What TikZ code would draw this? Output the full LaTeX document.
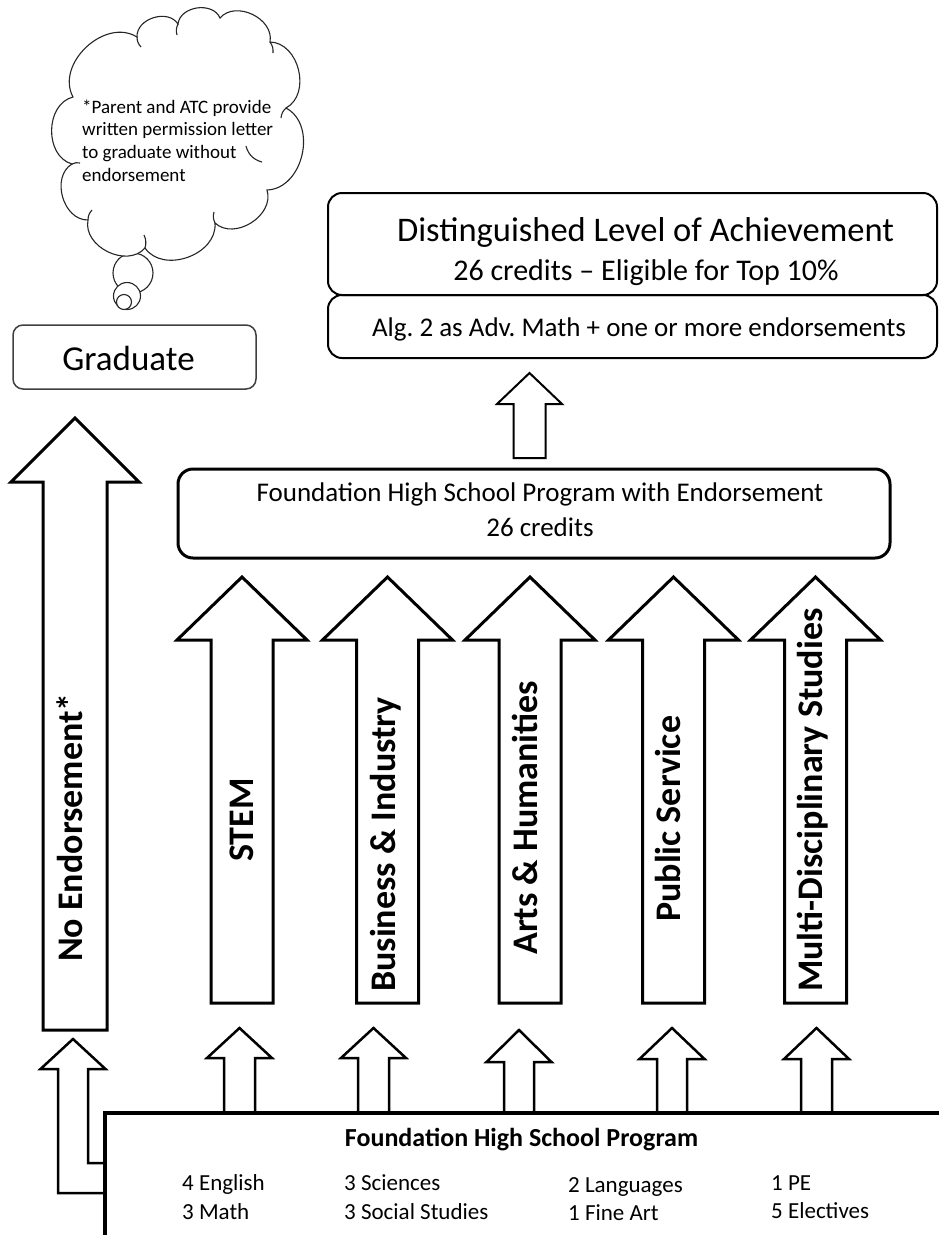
\documentclass[tikz,border=0pt]{standalone}
\usepackage{fontspec}
\setmainfont{Carlito}
\frenchspacing
\newcommand{\BlockUp}[7]{%
  \draw[#1] (#2,#3) -- ({#2+#6},#4) -- ({#2+#7},#4) -- ({#2+#7},#5) -- ({#2-#7},#5) -- ({#2-#7},#4) -- ({#2-#6},#4) -- cycle;}
\tikzset{
  bigarrow/.style={draw=black, line width=3pt, fill=white, line join=miter},
  smallarrow/.style={draw=black, line width=2.5pt, fill=white, line join=miter},
  midarrow/.style={draw=black, line width=2pt, fill=white, line join=miter},
  arrowlabel/.style={rotate=90, anchor=base west, inner sep=0pt, font=\bfseries\fontsize{36}{43}\selectfont},
  txt/.style={inner sep=0pt, anchor=base},
  ltxt/.style={inner sep=0pt, anchor=base west},
  boxshape/.style={draw=black, fill=white, outer sep=0pt, inner sep=0pt},
  cloudline/.style={draw=black!85, line width=1.1pt},
  bubble/.style={circle, cloudline, fill=white, inner sep=0pt, outer sep=0pt},
  puff/.style={bend left=75, looseness=1.1}
}
\begin{document}
\begin{tikzpicture}[x=1pt,y=-1pt]
\useasboundingbox (0,0) rectangle (938,1235);

% thought cloud
\node[bubble, minimum size=40pt] (b1) at (133,273) {};
\node[bubble, minimum size=27pt] (b2) at (127,296) {};
\node[bubble, minimum size=15pt] (b3) at (124,302) {};
\draw[cloudline, fill=white] (73,97) to[puff] (137,37) to[puff] (178,24) to[puff] (220,18)
  to[puff] (270,42) to[puff] (286,108) to[puff] (267,190) to[puff] (215,223)
  to[puff] (145,248) to[puff] (88,220) to[puff] (72,164) to[puff] (73,97) -- cycle;
\draw[cloudline] (137,37) to[bend right=20] (141,47);
\draw[cloudline] (178,24) to[bend right=20] (177,35);
\draw[cloudline] (270,42) to[bend left=20] (273,53);
\draw[cloudline] (286,108) to[bend right=20] (281,118);
\draw[cloudline] (246,146) to[bend right=30] (262,162);
\draw[cloudline] (215,223) to[bend left=20] (214,212);
\draw[cloudline] (145,248) to[bend right=20] (144,235);
\draw[cloudline] (88,220) to[bend left=20] (92,210);
\draw[cloudline] (72,164) to[bend left=20] (80,163);
\node[ltxt, font=\fontsize{19}{23}\selectfont] (n1) at (82,113) {*Parent and ATC provide};
\node[ltxt, font=\fontsize{19}{23}\selectfont] (n2) at (82,135) {written permission letter};
\node[ltxt, font=\fontsize{19}{23}\selectfont] (n3) at (82,158) {to graduate without};
\node[ltxt, font=\fontsize{19}{23}\selectfont] (n4) at (82,181) {endorsement};

% Graduate
\node[boxshape, draw=black!75, line width=1.5pt, rounded corners=10pt, minimum width=243pt, minimum height=64pt] (grad) at (134.5,357) {};
\node[txt, font=\fontsize{35}{42}\selectfont] (gradt) at (128.5,370) {Graduate};

% Distinguished
\node[boxshape, line width=2pt, rounded corners=14pt, minimum width=609pt, minimum height=63pt] (alg) at (632.5,326.5) {};
\node[boxshape, line width=2pt, rounded corners=14pt, minimum width=609pt, minimum height=102pt] (dist) at (632.5,244) {};
\node[txt, font=\fontsize{34.5}{41}\selectfont] (dist1) at (645.5,241) {Distinguished Level of Achievement};
\node[txt, font=\fontsize{30}{36}\selectfont] (dist2) at (646,280) {26 credits -- Eligible for Top 10\%};
\node[txt, font=\fontsize{27}{32}\selectfont] (algt) at (639,336) {Alg. 2 as Adv. Math + one or more endorsements};

% middle arrow
\BlockUp{midarrow}{529.5}{373}{404}{458}{32.5}{16}

% Foundation with endorsement
\node[boxshape, line width=3pt, rounded corners=15pt, minimum width=712pt, minimum height=89pt] (fend) at (534,513.5) {};
\node[txt, font=\fontsize{27}{32}\selectfont] (fend1) at (540,501) {Foundation High School Program with Endorsement};
\node[txt, font=\fontsize{27}{32}\selectfont] (fend2) at (540,536) {26 credits};

% big arrows
\BlockUp{bigarrow}{75}{418}{482}{1030}{64}{32}
\BlockUp{bigarrow}{242}{577}{640}{1003}{65}{31}
\BlockUp{bigarrow}{387.5}{577}{640}{1003}{65}{31}
\BlockUp{bigarrow}{530}{577}{640}{1003}{65}{31}
\BlockUp{bigarrow}{673.5}{577}{640}{1003}{65}{31}
\BlockUp{bigarrow}{815.5}{577}{640}{1003}{65}{31}
\node[arrowlabel] (lne) at (82,962) {No Endorsement*};
\node[arrowlabel] (lstem) at (253,862) {STEM};
\node[arrowlabel] (lbus) at (395,992) {Business \& Industry};
\node[arrowlabel] (lart) at (537,955) {Arts \& Humanities};
\node[arrowlabel] (lpub) at (680,922) {Public Service};
\node[arrowlabel] (lmul) at (822,992) {Multi-Disciplinary Studies};

% small arrows
\BlockUp{smallarrow}{239.5}{1028}{1058}{1113}{32.5}{15.5}
\BlockUp{smallarrow}{373.5}{1028}{1058}{1113}{32.5}{15.5}
\BlockUp{smallarrow}{519}{1030}{1062}{1113}{32.5}{15}
\BlockUp{smallarrow}{672}{1028}{1059}{1113}{32.5}{15}
\BlockUp{smallarrow}{816.5}{1028}{1059}{1113}{32.5}{15.5}

% bent arrow
\draw[smallarrow] (73,1039) -- (105.5,1069) -- (88,1069) -- (88,1163) -- (105,1163) -- (105,1193) -- (58,1193) -- (58,1069) -- (40.5,1069) -- cycle;

% Foundation High School Program
\node[boxshape, line width=4pt, anchor=north west, minimum width=860pt, minimum height=150pt] (fhsp) at (105,1113) {};
\node[txt, font=\bfseries\fontsize{26}{31}\selectfont] (fhspt) at (521.5,1146) {Foundation High School Program};
\begin{scope}[every node/.style={ltxt, font=\fontsize{23}{28}\selectfont}]
\node (c1a) at (182,1190.5) {4 English};
\node (c1b) at (182,1219.5) {3 Math};
\node (c2a) at (344,1190.5) {3 Sciences};
\node (c2b) at (344,1219.5) {3 Social Studies};
\node (c3a) at (568,1192) {2 Languages};
\node (c3b) at (568,1220.5) {1 Fine Art};
\node (c4a) at (771,1190.5) {1 PE};
\node (c4b) at (771,1218.5) {5 Electives};
\end{scope}
\end{tikzpicture}
\end{document}
